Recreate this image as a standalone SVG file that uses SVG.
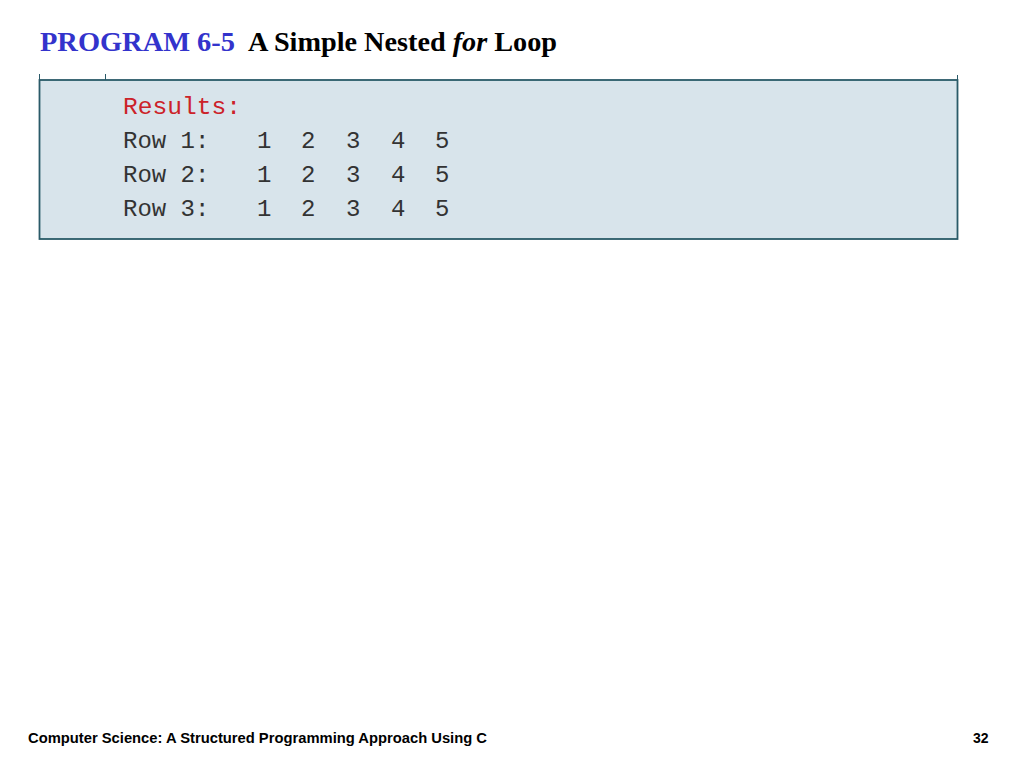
<svg xmlns="http://www.w3.org/2000/svg" width="1024" height="768" viewBox="0 0 1024 768">
<style>
.title{font-family:"Liberation Serif","Times New Roman",serif;font-weight:bold;font-size:27px}
.mono{font-family:"Liberation Mono","Courier New",monospace;font-size:24px;fill:#333333}
.foot{font-family:"Liberation Sans",Arial,sans-serif;font-weight:bold;font-size:14px;fill:#000}
</style>
<rect width="1024" height="768" fill="#ffffff"/>
<g id="title">
<text class="title" x="40" y="51" fill="#3333cc" textLength="195" lengthAdjust="spacingAndGlyphs">PROGRAM 6-5</text>
<text class="title" x="248" y="51" fill="#000" textLength="309" lengthAdjust="spacingAndGlyphs">A Simple Nested <tspan font-style="italic">for</tspan> Loop</text>
</g>
<g id="output-box">
<line x1="39.5" y1="74" x2="39.5" y2="80" stroke="#2a5a68" stroke-width="1"/>
<line x1="105.5" y1="74" x2="105.5" y2="80" stroke="#2a5a68" stroke-width="1"/>
<line x1="957.5" y1="75" x2="957.5" y2="80" stroke="#2a5a68" stroke-width="1"/>
<rect x="39.5" y="80" width="918" height="159" fill="#d8e4eb" stroke="#2a5a68" stroke-width="1.8"/>
<text class="mono" x="123" y="114" style="fill:#cc2229" textLength="118" lengthAdjust="spacingAndGlyphs">Results:</text>
<g class="mono">
<text class="mono" x="123" y="148">Row 1:</text>
<text class="mono" x="257" y="148">1</text><text class="mono" x="301" y="148">2</text><text class="mono" x="346" y="148">3</text><text class="mono" x="391" y="148">4</text><text class="mono" x="435" y="148">5</text>
<text class="mono" x="123" y="182">Row 2:</text>
<text class="mono" x="257" y="182">1</text><text class="mono" x="301" y="182">2</text><text class="mono" x="346" y="182">3</text><text class="mono" x="391" y="182">4</text><text class="mono" x="435" y="182">5</text>
<text class="mono" x="123" y="216">Row 3:</text>
<text class="mono" x="257" y="216">1</text><text class="mono" x="301" y="216">2</text><text class="mono" x="346" y="216">3</text><text class="mono" x="391" y="216">4</text><text class="mono" x="435" y="216">5</text>
</g>
</g>
<g id="footer">
<text class="foot" x="28" y="743" textLength="459" lengthAdjust="spacingAndGlyphs">Computer Science: A Structured Programming Approach Using C</text>
<text class="foot" x="973" y="743">32</text>
</g>
</svg>
